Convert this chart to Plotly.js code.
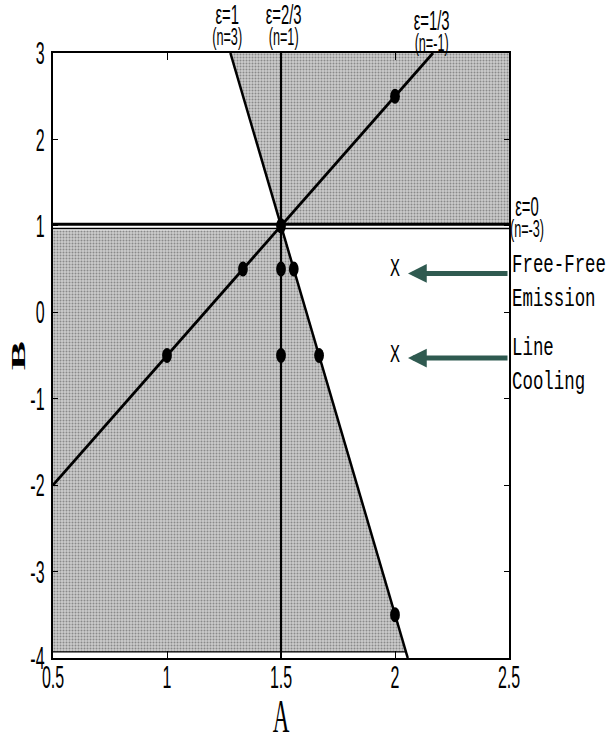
<!DOCTYPE html>
<html>
<head>
<meta charset="utf-8">
<script src="https://cdn.plot.ly/plotly-3.0.1.min.js"></script>
<style>html,body{margin:0;padding:0;background:#fff;}</style>
</head>
<body>
<div id="chart" style="width:608px;height:742px;"></div>
<script>
// ---- data ----
const xTickVals = [0.5, 1, 1.5, 2, 2.5];
const xTickText = ["0.5", "1", "1.5", "2", "2.5"];
const yTickVals = [3, 2, 1, 0, -1, -2, -3, -4];
const yTickText = ["3", "2", "1", "0", "-1", "-2", "-3", "-4"];

// shaded regions (allowed zones)
const topShadeA = [1.278, 2.5, 2.5, 1.498];
const topShadeB = [3, 3, 1.02, 1.02];
const botShadeA = [0.5, 1.506, 2.048, 0.5];
const botShadeB = [0.95, 0.95, -3.93, -3.93];

// boundary lines
const eps0A = [0.5, 2.5];          const eps0B = [1.02, 1.02];
const eps0bA = [0.5, 2.5];         const eps0bB = [0.97, 0.97];
const botEdgeA = [0.5, 2.048];     const botEdgeB = [-3.93, -3.93];
const eps23A = [1.5, 1.5];         const eps23B = [3, -4];
const eps1A = [1.278, 2.056];      const eps1B = [3, -4];
const eps13A = [0.5, 2.1667];      const eps13B = [-2, 3];

// dots
const dotA = [1.5, 2, 1, 1.333, 1.5, 1.556, 1.5, 1.667, 2];
const dotB = [1, 2.5, -0.5, 0.5, 0.5, 0.5, -0.5, -0.5, -3.5];

// cross markers
const crossA = [2, 2];
const crossB = [0.5, -0.5];
const crossText = ["X", "X"];

// arrow labels (label x in paper units, right of the axes)
const arrowLabels = ["Free-Free<br>Emission", "Line<br>Cooling"];
const arrowB = [0.45, -0.53];
const arrowLabelB = [0.355, -0.615];
const arrowTipA = 2.057;
const arrowLabelX = 1.003;

// epsilon labels
const epsMain = ["ε=1", "ε=2/3", "ε=1/3"];
const epsSub = ["(n=3)", "(n=1)", "(n=-1)"];
const epsA = [1.262, 1.51, 2.158];
const epsY = [1.047, 1.047, 1.037];
const eps0Main = "ε=0";
const eps0Sub = "(n=-3)";
const eps0LabelX = 1.039;
const eps0LabelB = 1.10;

const sans = "Liberation Sans, Arial, sans-serif";
const mono = "Liberation Mono, Courier New, monospace";
const serif = "Liberation Serif, Times New Roman, serif";

const shadeFill = {shape: ".", fgcolor: "#8a8a8a", bgcolor: "#cdcdcd", size: 3, solidity: 0.35};

const traces = [
  {x: topShadeA, y: topShadeB, mode: "lines", fill: "toself", fillcolor: "#c4c4c4",
   fillpattern: shadeFill, line: {width: 0}, hoverinfo: "skip"},
  {x: botShadeA, y: botShadeB, mode: "lines", fill: "toself", fillcolor: "#c4c4c4",
   fillpattern: shadeFill, line: {width: 0}, hoverinfo: "skip"},
  {x: botEdgeA, y: botEdgeB, mode: "lines", line: {color: "#000", width: 1.2}},
  {x: eps0bA, y: eps0bB, mode: "lines", line: {color: "#000", width: 1.5}},
  {x: eps0A, y: eps0B, mode: "lines", line: {color: "#000", width: 3}},
  {x: eps23A, y: eps23B, mode: "lines", line: {color: "#000", width: 2}},
  {x: eps1A, y: eps1B, mode: "lines", line: {color: "#000", width: 2.5}},
  {x: eps13A, y: eps13B, mode: "lines", line: {color: "#000", width: 2.8}},
  {x: dotA, y: dotB, mode: "markers", marker: {color: "#000", size: 15, symbol: "circle"}},
  {x: crossA, y: crossB, mode: "text", text: crossText,
   textfont: {family: mono, size: 26, color: "#000"}, textposition: "middle center"}
];

function epsText(main, sub) {
  return '<span style="font-size:27px">' + main + '</span><br><span style="font-size:23px">' + sub + '</span>';
}

const annotations = [];
epsMain.forEach((m, i) => {
  annotations.push({x: epsA[i], xref: "x", y: epsY[i], yref: "paper", text: epsText(m, epsSub[i]),
    showarrow: false, align: "center", xanchor: "center", yanchor: "middle",
    font: {family: sans, size: 16, color: "#000000"}});
});
annotations.push({x: eps0LabelX, xref: "paper", y: eps0LabelB, yref: "y", text: epsText(eps0Main, eps0Sub),
  showarrow: false, align: "center", xanchor: "center", yanchor: "middle",
  font: {family: sans, size: 16, color: "#000000"}});

arrowB.forEach((b, i) => {
  annotations.push({x: arrowTipA, y: b, xref: "x", yref: "y", ax: 2.5, ay: b, axref: "x", ayref: "y",
    text: "", showarrow: true, arrowhead: 2, arrowsize: 0.75, arrowwidth: 5, arrowcolor: "#2f5a50"});
  annotations.push({x: arrowLabelX, y: arrowLabelB[i], xref: "paper", yref: "y", text: arrowLabels[i],
    showarrow: false, align: "left", xanchor: "left", yanchor: "middle",
    font: {family: mono, size: 26, color: "#000000"}});
});

const layout = {
  width: 608, height: 742,
  margin: {l: 53, r: 99, t: 53, b: 84},
  paper_bgcolor: "#fff", plot_bgcolor: "#fff",
  showlegend: false,
  xaxis: {range: [0.5, 2.5], tickvals: xTickVals, ticktext: xTickText,
    showgrid: false, zeroline: false, showline: true, linecolor: "#000", linewidth: 2,
    mirror: "ticks", ticks: "inside", ticklen: 7, tickwidth: 1, tickcolor: "#000",
    tickfont: {family: sans, size: 32, color: "#000"},
    title: {text: "A", font: {family: serif, size: 46, color: "#000"}, standoff: 2}},
  yaxis: {range: [-4, 3], tickvals: yTickVals, ticktext: yTickText,
    showgrid: false, zeroline: false, showline: true, linecolor: "#000", linewidth: 2,
    mirror: "ticks", ticks: "inside", ticklen: 5, tickwidth: 1, tickcolor: "#000",
    tickfont: {family: sans, size: 32, color: "#000"},
    title: {text: "<b>B</b>", font: {family: serif, size: 44, color: "#000"}, standoff: 4}},
  annotations: annotations
};

// horizontal squash (and optional shift) of text to mimic the reference's condensed look
function squash(el, s, dx, dy) {
  let bb;
  try { bb = el.getBBox(); } catch (e) { return; }
  if (!bb || bb.width === 0) return;
  const anchor = el.getAttribute("text-anchor") || "start";
  const px = anchor === "middle" ? bb.x + bb.width / 2 : (anchor === "end" ? bb.x + bb.width : bb.x);
  const py = bb.y + bb.height / 2;
  const t = el.transform.baseVal.consolidate();
  const m = t ? t.matrix : {a: 1, b: 0, c: 0, d: 1, e: 0, f: 0};
  const X = m.a * px + m.c * py + m.e;
  const Y = m.b * px + m.d * py + m.f;
  const old = el.getAttribute("transform") || "";
  el.setAttribute("transform",
    `translate(${(dx || 0)},${(dy || 0)}) translate(${X},${Y}) scale(${s},1) translate(${-X},${-Y}) ${old}`);
}

Plotly.newPlot("chart", traces, layout, {displayModeBar: false, staticPlot: true}).then(gd => {
  gd.querySelectorAll(".xtick text").forEach(el => squash(el, 0.5, 0, -10));
  gd.querySelectorAll(".ytick text").forEach(el => squash(el, 0.5, 0, 0));
  gd.querySelectorAll(".g-xtitle text").forEach(el => squash(el, 0.5, 0, 0));
  gd.querySelectorAll(".g-ytitle text").forEach(el => squash(el, 0.45, -6, 0));
  gd.querySelectorAll(".annotation-text").forEach(el => {
    const fam = el.style.fontFamily || "";
    squash(el, fam.indexOf("Mono") >= 0 ? 0.67 : 0.55);
  });
  gd.querySelectorAll(".textpoint text").forEach(el => squash(el, 0.64));
  gd.querySelectorAll(".scatterlayer .points path.point").forEach(el => {
    const old = el.getAttribute("transform") || "";
    el.setAttribute("transform", old + " scale(0.65,1)");
  });
});
</script>
</body>
</html>
